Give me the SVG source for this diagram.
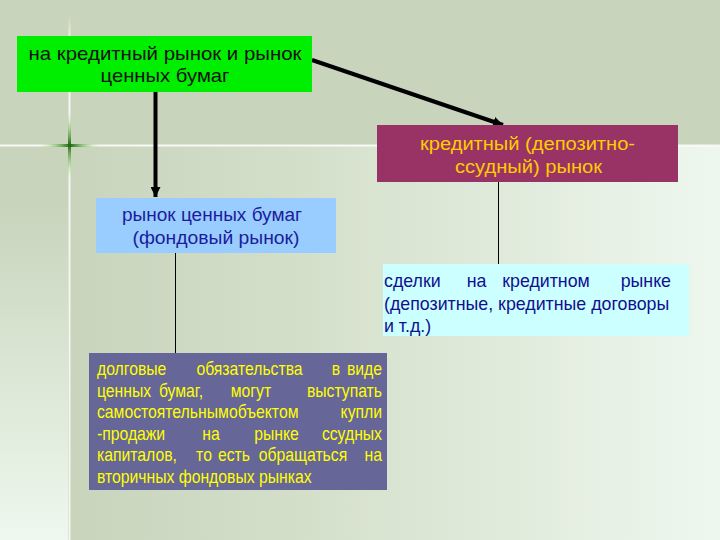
<svg xmlns="http://www.w3.org/2000/svg" width="720" height="540" viewBox="0 0 720 540">
<defs>
<linearGradient id="bgR" x1="0" y1="0" x2="1" y2="0"><stop offset="0" stop-color="#c8d4bc"/><stop offset="0.35" stop-color="#d4dfca"/><stop offset="1" stop-color="#eef7ee"/></linearGradient>
<linearGradient id="bgL" x1="0" y1="0" x2="0" y2="1"><stop offset="0" stop-color="#c8d4bc"/><stop offset="0.15" stop-color="#c8d4bc"/><stop offset="1" stop-color="#eef8ee"/></linearGradient>
<linearGradient id="crH" x1="0" y1="0" x2="1" y2="0"><stop offset="0" stop-color="#b8f080" stop-opacity="0"/><stop offset="0.5" stop-color="#1e6a10"/><stop offset="1" stop-color="#b8f080" stop-opacity="0"/></linearGradient>
<linearGradient id="crV" x1="0" y1="0" x2="0" y2="1"><stop offset="0" stop-color="#b8f080" stop-opacity="0"/><stop offset="0.5" stop-color="#1e6a10"/><stop offset="1" stop-color="#b8f080" stop-opacity="0"/></linearGradient>
<linearGradient id="vl" x1="0" y1="0" x2="0" y2="1"><stop offset="0" stop-color="#ffffff" stop-opacity="0"/><stop offset="0.05" stop-color="#ffffff" stop-opacity="0.8"/><stop offset="1" stop-color="#ffffff" stop-opacity="0.8"/></linearGradient>
<marker id="ah" markerUnits="userSpaceOnUse" markerWidth="12" markerHeight="10" refX="10" refY="5" orient="auto"><path d="M0,0 L10,5 L0,10 Z" fill="#000"/></marker>
<style>
text{font-family:"Liberation Sans",Arial,sans-serif;}
.t1{font-size:19px;fill:#111;text-anchor:middle;}
.t2{font-size:18px;fill:#ffcc00;text-anchor:middle;}
.t3{font-size:18px;fill:#1c1c9c;text-anchor:middle;}
.t4{font-size:17.8px;fill:#101090;}
.t5{font-size:17.5px;fill:#ffff00;}
.m{text-anchor:middle;}
.e{text-anchor:end;}
.thick{stroke:#000;stroke-width:4;fill:none;}
.thin{stroke:#000;stroke-width:1;fill:none;}
</style>
</defs>
<g id="background">
<rect x="0" y="0" width="720" height="540" fill="#c8d4bc"/>
<rect x="70" y="146" width="650" height="394" fill="url(#bgR)"/>
<rect x="0" y="146" width="68" height="394" fill="url(#bgL)"/>
<rect x="0" y="144.5" width="720" height="2" fill="#ffffff" opacity="0.85"/>
<rect x="68.5" y="15" width="2" height="525" fill="url(#vl)"/>
<rect x="40" y="144" width="60" height="3" fill="url(#crH)"/>
<rect x="68" y="112" width="3" height="66" fill="url(#crV)"/>
</g>
<g id="connectors">
<line class="thick" x1="155.5" y1="92" x2="155.5" y2="197" marker-end="url(#ah)"/>
<line class="thick" x1="312" y1="60" x2="503" y2="125" marker-end="url(#ah)"/>
<line class="thin" x1="498.5" y1="182" x2="498.5" y2="264"/>
<line class="thin" x1="175.5" y1="253" x2="175.5" y2="353"/>
</g>
<g id="node1">
<rect x="17" y="36" width="295" height="56" fill="#00ee00"/>
<text class="t1" x="165" y="60" textLength="273" lengthAdjust="spacingAndGlyphs">на кредитный рынок и рынок</text>
<text class="t1" x="165" y="82" textLength="129" lengthAdjust="spacingAndGlyphs">ценных бумаг</text>
</g>
<g id="node2">
<rect x="377" y="125" width="301" height="57" fill="#993366"/>
<text class="t2" x="527.5" y="150" textLength="215" lengthAdjust="spacingAndGlyphs">кредитный (депозитно-</text>
<text class="t2" x="528.5" y="173" textLength="147" lengthAdjust="spacingAndGlyphs">ссудный) рынок</text>
</g>
<g id="node3">
<rect x="96" y="198" width="240" height="55" fill="#99ccff"/>
<text class="t3" x="212" y="221" textLength="180" lengthAdjust="spacingAndGlyphs">рынок ценных бумаг</text>
<text class="t3" x="216" y="244" textLength="167" lengthAdjust="spacingAndGlyphs">(фондовый рынок)</text>
</g>
<g id="node4">
<rect x="383" y="264" width="306" height="72" fill="#ccffff"/>
<text class="t4" x="384" y="287">сделки</text>
<text class="t4 m" x="476.5" y="287">на</text>
<text class="t4 m" x="546" y="287">кредитном</text>
<text class="t4 e" x="671" y="287">рынке</text>
<text class="t4" x="384" y="310">(депозитные, кредитные договоры</text>
<text class="t4" x="384" y="332">и т.д.)</text>
</g>
<g id="node5">
<rect x="89" y="353" width="298" height="137" fill="#666699"/>
<g transform="scale(0.9,1)">
<text class="t5" x="107.78" y="375">долговые</text>
<text class="t5 m" x="277.22" y="375">обязательства</text>
<text class="t5 m" x="373.33" y="375">в</text>
<text class="t5 e" x="424.44" y="375">виде</text>
<text class="t5" x="107.78" y="397">ценных</text>
<text class="t5 m" x="201.11" y="397">бумаг,</text>
<text class="t5 m" x="278.89" y="397">могут</text>
<text class="t5 e" x="424.44" y="397">выступать</text>
<text class="t5" x="107.78" y="418">самостоятельным</text>
<text class="t5" x="254.44" y="418">объектом</text>
<text class="t5 e" x="424.44" y="418">купли</text>
<text class="t5" x="107.78" y="440">-продажи</text>
<text class="t5 m" x="234.44" y="440">на</text>
<text class="t5 m" x="307.22" y="440">рынке</text>
<text class="t5 e" x="424.44" y="440">ссудных</text>
<text class="t5" x="107.78" y="461">капиталов,</text>
<text class="t5 m" x="226.67" y="461">то</text>
<text class="t5 m" x="260" y="461">есть</text>
<text class="t5 m" x="336.67" y="461">обращаться</text>
<text class="t5 e" x="424.44" y="461">на</text>
<text class="t5" x="107.78" y="483">вторичных фондовых рынках</text>
</g>
</g>
</svg>
